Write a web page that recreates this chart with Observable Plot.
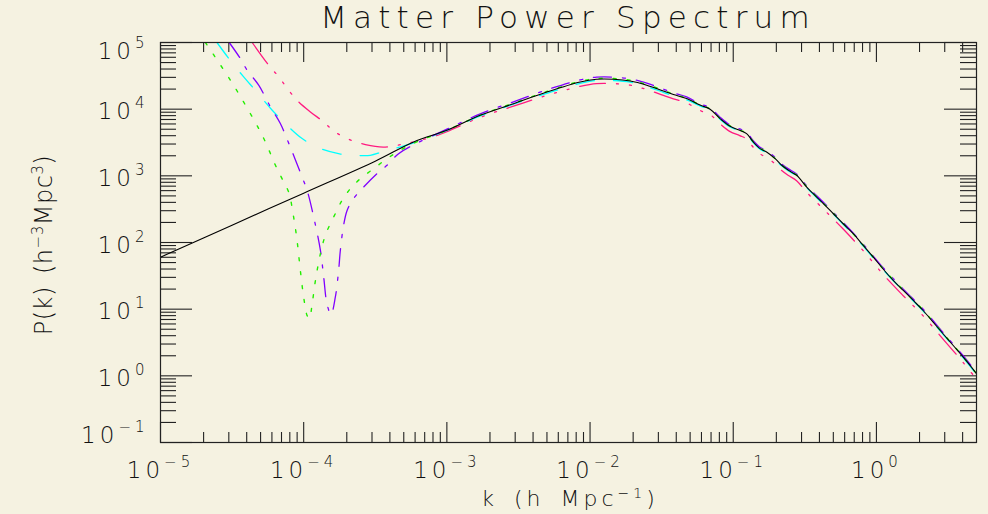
<!DOCTYPE html>
<html><head><meta charset="utf-8">
<script src="https://cdn.jsdelivr.net/npm/d3@7"></script>
<script src="https://cdn.jsdelivr.net/npm/@observablehq/plot@0.6"></script>
<style>
html,body{margin:0;padding:0;background:#f5f2e1;}
#chart svg{display:block;}
</style></head><body><div id="chart"></div>
<script>
// ---- data (k in h/Mpc, P in h^-3 Mpc^3) ----
const kLin = [1e-5, 3.16e-5, 1e-4, 3.16e-4, 5.86e-4, 1.0e-3, 1.71e-3, 2.92e-3, 4.99e-3, 8.53e-3, 0.0111, 0.0146, 0.0191, 0.0249, 0.0325, 0.0382, 0.0473, 0.0586, 0.0689, 0.0809, 0.0951, 0.111, 0.124, 0.138, 0.154, 0.171, 0.196, 0.218, 0.243, 0.277, 0.326, 0.372, 0.426, 0.5, 0.586, 0.689, 0.809, 0.951, 1.11, 1.31, 1.54, 1.81, 2.12, 2.49, 2.92, 3.44, 4.04, 4.61, 5.0];
const pLin = [60.3, 182, 550, 1660, 3220, 4820, 8090, 12100, 18100, 25600, 28100, 28100, 26500, 22900, 18700, 16600, 14400, 11500, 10000, 7230, 5530, 4820, 4300, 3220, 2560, 2280, 1810, 1440, 1210, 1020, 679, 509, 383, 270, 191, 136, 90.4, 60.4, 40.4, 27.0, 19.1, 13.5, 9.55, 6.38, 4.28, 2.85, 1.91, 1.35, 1.07];

const kGreenLow = [2.06e-5, 2.36e-5, 3.08e-5, 3.92e-5, 4.85e-5, 5.41e-5, 6.35e-5, 7.06e-5, 7.85e-5, 8.51e-5, 8.99e-5, 9.48e-5, 1.0e-4, 1.057e-4, 1.096e-4, 1.146e-4, 1.208e-4, 1.309e-4, 1.416e-4, 1.618e-4, 1.854e-4, 2.12e-4, 2.49e-4, 3.08e-4, 3.82e-4, 4.73e-4, 6.31e-4];
const pGreenLow = [1.0e5, 64600, 27200, 11500, 5120, 3210, 1440, 908, 571, 240, 107, 38.1, 15.1, 8.0, 7.2, 12.0, 26.9, 67.9, 128, 240, 429, 643, 908, 1280, 1810, 2420, 3310];

const kPurpleLow = [3.02e-5, 3.61e-5, 4.03e-5, 4.85e-5, 5.86e-5, 6.87e-5, 8.07e-5, 9.75e-5, 1.057e-4, 1.175e-4, 1.309e-4, 1.38e-4, 1.455e-4, 1.552e-4, 1.663e-4, 1.754e-4, 1.803e-4, 1.90e-4, 2.01e-4, 2.23e-4, 2.62e-4, 3.25e-4, 3.82e-4, 4.60e-4, 6.31e-4];
const pPurpleLow = [1.0e5, 57500, 38400, 22900, 10800, 6080, 2690, 959, 605, 240, 76, 30.2, 12.0, 8.3, 15.1, 38.1, 76, 181, 303, 455, 679, 1080, 1440, 2150, 3160];

const kCyanLow = [2.48e-5, 3.0e-5, 3.81e-5, 4.60e-5, 6.03e-5, 7.24e-5, 9.75e-5, 1.309e-4, 1.78e-4, 2.40e-4, 2.92e-4, 3.55e-4, 4.49e-4, 6.31e-4];
const pCyanLow = [1.0e5, 57500, 30500, 19200, 9620, 6430, 3620, 2560, 2140, 2020, 2030, 2290, 2630, 3310];

const kPinkLow = [4.37e-5, 5.70e-5, 6.70e-5, 7.85e-5, 9.23e-5, 1.114e-4, 1.38e-4, 1.618e-4, 2.01e-4, 2.70e-4, 3.61e-4, 4.86e-4, 6.52e-4, 8.57e-4];
const pPinkLow = [1.0e5, 45600, 30500, 19200, 12800, 9080, 6430, 4710, 3620, 2940, 2700, 2970, 3410, 4060];

const kHigh = [1.0e-3, 1.71e-3, 2.92e-3, 4.99e-3, 8.53e-3, 0.0111, 0.0146, 0.0191, 0.0249, 0.0325, 0.0382, 0.0473, 0.0586, 0.0689, 0.0809, 0.0951, 0.111, 0.124, 0.138, 0.154, 0.171, 0.196, 0.218, 0.243, 0.277, 0.326, 0.426, 0.586, 0.809, 1.11, 1.54, 2.12, 2.92, 4.04, 5.0];
const pGreenHigh = [4820, 8130, 12300, 18400, 26200, 28800, 28800, 27200, 23400, 19200, 16800, 14600, 11600, 10100, 7310, 5600, 4880, 4350, 3260, 2590, 2300, 1830, 1460, 1220, 1030, 687, 387, 194, 91.4, 40.8, 19.3, 9.66, 4.33, 1.93, 1.08];
const pPurpleHigh = [5010, 8510, 12900, 19500, 27500, 30200, 30200, 28500, 24500, 20000, 17600, 15300, 12000, 10500, 7590, 5790, 5050, 4500, 3370, 2680, 2380, 1900, 1510, 1270, 1070, 711, 401, 200, 94.6, 42.3, 20.0, 10.0, 4.48, 2.0, 1.12];
const pCyanHigh = [4820, 7910, 11900, 17300, 24400, 26900, 26900, 25400, 21800, 17900, 15800, 13800, 11200, 9770, 7060, 5410, 4710, 4200, 3150, 2500, 2220, 1770, 1410, 1180, 995, 664, 374, 187, 88.3, 39.4, 18.7, 9.33, 4.18, 1.86, 1.05];
const pPinkHigh = [4600, 7550, 11100, 16100, 22000, 24200, 24200, 22900, 19700, 16100, 14300, 12400, 9550, 8320, 6010, 4600, 4010, 3570, 2680, 2130, 1890, 1510, 1200, 1010, 847, 565, 318, 159, 75.2, 33.6, 15.9, 7.94, 3.56, 1.58, 0.89];

const xMajor = [1e-5, 1e-4, 1e-3, 1e-2, 1e-1, 1];
const yMajor = [1e-1, 1, 10, 100, 1e3, 1e4, 1e5];
const xMinorExtra = [2, 3, 4];

// ---- tables ----
const rows = (ks, ps) => ks.map((k, i) => ({k, P: ps[i]}));
const lin = rows(kLin, pLin);
const green = rows(kGreenLow.concat(kHigh), pGreenLow.concat(pGreenHigh));
const purple = rows(kPurpleLow.concat(kHigh), pPurpleLow.concat(pPurpleHigh));
const cyan = rows(kCyanLow.concat(kHigh), pCyanLow.concat(pCyanHigh));
const pink = rows(kPinkLow.concat(kHigh), pPinkLow.concat(pPinkHigh));

const mult = [2, 3, 4, 5, 6, 7, 8, 9];
const xMinor = xMajor.slice(0, -1).flatMap(d => mult.map(m => m * d)).concat(xMinorExtra);
const yMinor = yMajor.slice(0, -1).flatMap(d => mult.map(m => m * d));

const W = 988, H = 514, mL = 160, mR = 12, mT = 42, mB = 72;
const fw = W - mL - mR, fh = H - mT - mB;
const BG = "#f5f2e1";
const FONT = "'DejaVu Sans', sans-serif";
const expo = d => "10^" + Math.round(Math.log10(d));

const lineOpts = {x: "k", y: "P", curve: "catmull-rom", clip: true};

const plot = Plot.plot({
  width: W, height: H,
  marginLeft: mL, marginRight: mR, marginTop: mT, marginBottom: mB,
  style: {background: BG, fontFamily: FONT, color: "#000"},
  x: {type: "log", domain: [1e-5, 5]},
  y: {type: "log", domain: [0.1, 1e5]},
  marks: [
    // ticks (inward)
    Plot.ruleX(xMajor, {insetTop: fh - 20, stroke: "#222", strokeWidth: 1.1}),
    Plot.ruleX(xMajor, {insetBottom: fh - 20, stroke: "#222", strokeWidth: 1.1}),
    Plot.ruleX(xMinor, {insetTop: fh - 10, stroke: "#222", strokeWidth: 1.1}),
    Plot.ruleX(xMinor, {insetBottom: fh - 10, stroke: "#222", strokeWidth: 1.1}),
    Plot.ruleY(yMajor, {insetRight: fw - 32, stroke: "#222", strokeWidth: 1.1}),
    Plot.ruleY(yMajor, {insetLeft: fw - 32, stroke: "#222", strokeWidth: 1.1}),
    Plot.ruleY(yMinor, {insetRight: fw - 16, stroke: "#222", strokeWidth: 1.1}),
    Plot.ruleY(yMinor, {insetLeft: fw - 16, stroke: "#222", strokeWidth: 1.1}),
    // curves
    Plot.line(pink, {...lineOpts, stroke: "#ff1a80", strokeWidth: 1.3, strokeDasharray: "26,11,2,11,2,11,2,11"}),
    Plot.line(cyan, {...lineOpts, stroke: "#00ffff", strokeWidth: 1.3, strokeDasharray: "19,19"}),
    Plot.line(purple, {...lineOpts, stroke: "#8000ff", strokeWidth: 1.3, strokeDasharray: "18,11,3,11"}),
    Plot.line(green, {...lineOpts, stroke: "#22ee00", strokeWidth: 1.4, strokeDasharray: "3,11"}),
    Plot.line(lin, {...lineOpts, stroke: "#000", strokeWidth: 1.1}),
    Plot.frame({stroke: "#222", strokeWidth: 1.2}),
    // tick labels
    Plot.axisX(xMajor, {anchor: "bottom", label: null, tickSize: 0, tickPadding: 35, lineAnchor: "bottom", tickFormat: expo, fontSize: 23}),
    Plot.axisY(yMajor, {anchor: "left", label: null, tickSize: 0, tickPadding: 12, lineAnchor: "bottom", tickFormat: expo, fontSize: 23})
  ]
});

const NS = "http://www.w3.org/2000/svg";
function toSup(t, expSize, rise) {
  const s = t.textContent;
  const [b, e] = s.split("^");
  t.textContent = "";
  const a = document.createElementNS(NS, "tspan");
  a.textContent = b; t.appendChild(a);
  const c = document.createElementNS(NS, "tspan");
  c.textContent = e.replace("-", "\u2212");
  c.setAttribute("dy", -rise);
  c.setAttribute("font-size", expSize);
  t.appendChild(c);
}
const svg = plot.tagName.toLowerCase() === "svg" ? plot : plot.querySelector("svg");
const labelTexts = Array.from(svg.querySelectorAll("text")).filter(t => t.textContent.includes("^"));
const yShift = {"-1": 0, "5": 16.5};
labelTexts.forEach(t => {
  const g = t.parentNode;
  const isY = (g.getAttribute("aria-label") || "").startsWith("y");
  const e = t.textContent.split("^")[1];
  toSup(t, 15, 11);
  t.setAttribute("font-weight", "200");
  t.setAttribute("letter-spacing", "4");
  t.setAttribute("fill", "#111");
  if (isY) t.setAttribute("y", e in yShift ? yShift[e] : 10);
});

const s = d3.select(svg);
function addText(x, y, parts, opts) {
  const t = s.append("text")
    .attr("x", x).attr("y", y)
    .attr("text-anchor", "middle")
    .attr("font-family", FONT)
    .attr("font-weight", 200)
    .attr("fill", "#111")
    .attr("font-size", opts.size)
    .attr("letter-spacing", opts.ls)
    .attr("word-spacing", opts.ws || 0);
  if (opts.transform) t.attr("transform", opts.transform).attr("x", 0).attr("y", 0);
  parts.forEach(p => {
    const ts = t.append("tspan").text(p.t);
    if (p.sup) ts.attr("dy", -opts.rise).attr("font-size", opts.supSize);
    if (p.down) ts.attr("dy", opts.rise);
  });
  return t;
}
addText(568, 28, [{t: "Matter Power Spectrum"}], {size: 31, ls: 6.2});
addText(570, 506, [{t: "k (h Mpc"}, {t: "\u22121", sup: true}, {t: ")", down: true}], {size: 22, ls: 4, ws: 5, rise: 8, supSize: 14});
addText(0, 0, [{t: "P(k) (h"}, {t: "\u22123", sup: true}, {t: "Mpc", down: true}, {t: "3", sup: true}, {t: ")", down: true}],
  {size: 24, ls: 0.5, ws: 4, rise: 9, supSize: 15, transform: "translate(52,245) rotate(-90)"});

document.getElementById("chart").appendChild(plot);
</script></body></html>
